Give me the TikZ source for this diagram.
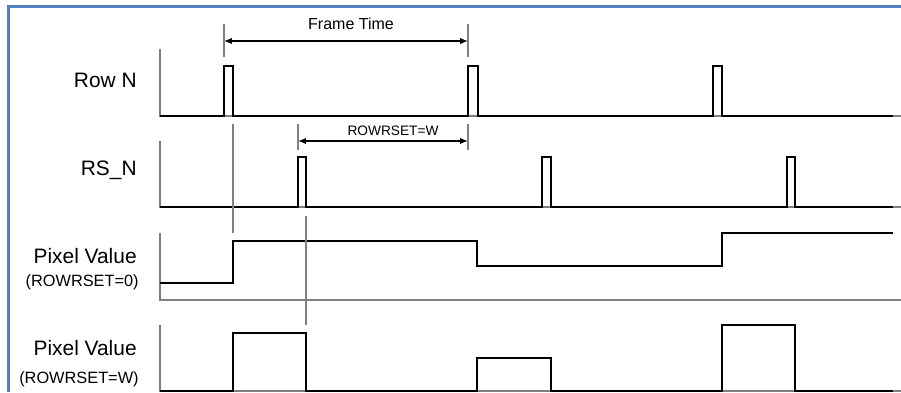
\documentclass[tikz,border=0pt]{standalone}
\usepackage{fontspec}
\setmainfont{Liberation Sans}
\usepackage{xcolor}
\usepackage{tikz}
\usetikzlibrary{arrows.meta}

\definecolor{frameblue}{RGB}{79,129,189}
\definecolor{axisgray}{RGB}{128,128,128}

\tikzset{
  axis/.style={axisgray, line width=0.85pt},
  signal/.style={black, line width=1.15pt},
  guide/.style={axisgray, line width=0.6pt},
  span/.style={black, line width=0.75pt, {Latex[length=4.5pt,width=3.6pt]}-{Latex[length=4.5pt,width=3.6pt]}},
  rowname/.style={anchor=base east, inner sep=0pt, font=\fontsize{11.9}{13}\selectfont},
  rownote/.style={anchor=base east, inner sep=0pt, font=\fontsize{9.3}{11}\selectfont},
}

\begin{document}
\begin{tikzpicture}[x=0.02cm, y=-0.02cm]

\useasboundingbox (0,0) rectangle (901,392);

% frame
\draw[frameblue, line width=1.3pt] (8.5,392) -- (8.5,6.5) -- (901,6.5);

% axes
\foreach \top/\base in {49/116, 141/207, 233/300, 325/391} {
    \draw[axis] (160,\top) -- (160,\base) -- (901,\base);
}

% Row N
\draw[signal] (160,116) -- (224,116) -- (224,66) -- (233,66) -- (233,116)
    -- (468,116) -- (468,66) -- (478,66) -- (478,116)
    -- (713,116) -- (713,66) -- (722,66) -- (722,116) -- (893,116);

% RS_N
\draw[signal] (160,207) -- (298,207) -- (298,157) -- (306,157) -- (306,207)
    -- (542,207) -- (542,157) -- (551,157) -- (551,207)
    -- (787,207) -- (787,157) -- (795,157) -- (795,207) -- (893,207);

% Pixel Value, ROWRSET=0
\draw[signal] (160,283) -| (233,241) -| (477,266) -| (722,233) -- (893,233);

% Pixel Value, ROWRSET=W
\draw[signal] (160,391) -| (233,333) -| (306,391) -| (477,358) -| (551,391)
    -| (722,325) -| (795,391) -- (893,391);

% ticks and guides
\coordinate (ft1) at (224,41);
\coordinate (ft2) at (468,41);
\coordinate (rw1) at (298,141);
\coordinate (rw2) at (468,141);

\foreach \p in {ft1,ft2} {
    \draw[guide] (\p) ++(0,-17) -- ++(0,33);
}
\foreach \p in {rw1,rw2} {
    \draw[guide] (\p) ++(0,-17) -- ++(0,26);
}
\draw[guide] (233,124) -- (233,233);
\draw[guide] (306,216) -- (306,325);

\draw[span] (ft1) -- (ft2);
\draw[span] (rw1) -- (rw2);

\node[anchor=base, font=\fontsize{9.1}{11}\selectfont] (frametime) at (351,30) {Frame Time};
\node[anchor=base, font=\fontsize{7.8}{9}\selectfont] (rowrsetw) at (393,135) {ROWRSET=W};

% row labels
\node[rowname] (rown)   at (137,87)  {Row N};
\node[rowname] (rsn)    at (137,175) {RS\_N};
\node[rowname] (pixa)   at (137,263) {Pixel Value};
\node[rownote] (pixan)  at (139,286) {(ROWRSET=0)};
\node[rowname] (pixb)   at (137,355) {Pixel Value};
\node[rownote] (pixbn)  at (139,383) {(ROWRSET=W)};

\end{tikzpicture}
\end{document}
